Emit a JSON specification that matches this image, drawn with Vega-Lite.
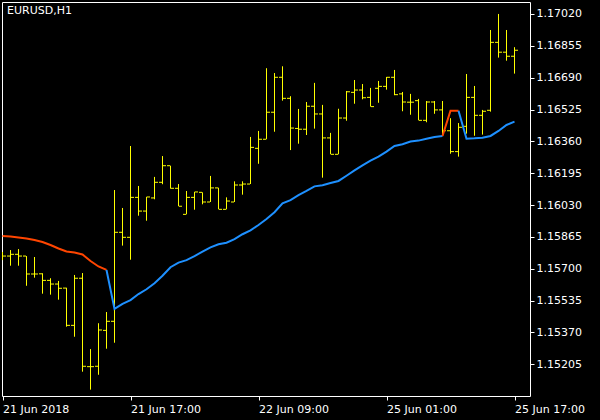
{
  "$schema": "https://vega.github.io/schema/vega-lite/v6.json",
  "width": 528,
  "height": 394,
  "autosize": {"type": "none"},
  "padding": {"left": 2, "top": 2, "right": 70, "bottom": 24},
  "background": "#000000",
  "title": {"text": "EURUSD,H1", "anchor": "start", "frame": "group", "orient": "top", "offset": -14, "dx": 5, "color": "#FFFFFF", "font": "DejaVu Sans", "fontSize": 11, "fontWeight": "normal"},
  "config": {
    "view": {"stroke": "#FFFFFF", "strokeWidth": 1, "fill": "#000000"},
    "axis": {"labelFont": "DejaVu Sans", "labelFontSize": 11, "labelColor": "#FFFFFF", "tickColor": "#FFFFFF", "tickSize": 4, "domain": false, "grid": false, "title": null, "labelOverlap": false}
  },
  "datasets": {
    "bars": [
      {"i":0,"o":1.15766,"h":1.15787,"l":1.15745,"c":1.15766},
      {"i":1,"o":1.15766,"h":1.15797,"l":1.15716,"c":1.15775},
      {"i":2,"o":1.15775,"h":1.15802,"l":1.15716,"c":1.15766},
      {"i":3,"o":1.15766,"h":1.15766,"l":1.15612,"c":1.15673},
      {"i":4,"o":1.15673,"h":1.15761,"l":1.15654,"c":1.15673},
      {"i":5,"o":1.15674,"h":1.15677,"l":1.15571,"c":1.15640},
      {"i":6,"o":1.15640,"h":1.15651,"l":1.15566,"c":1.15621},
      {"i":7,"o":1.15621,"h":1.15637,"l":1.15540,"c":1.15599},
      {"i":8,"o":1.15600,"h":1.15602,"l":1.15400,"c":1.15407},
      {"i":9,"o":1.15407,"h":1.15668,"l":1.15348,"c":1.15651},
      {"i":10,"o":1.15651,"h":1.15678,"l":1.15167,"c":1.15195},
      {"i":11,"o":1.15193,"h":1.15284,"l":1.15074,"c":1.15193},
      {"i":12,"o":1.15195,"h":1.15418,"l":1.15151,"c":1.15383},
      {"i":13,"o":1.15381,"h":1.15476,"l":1.15286,"c":1.15428},
      {"i":14,"o":1.15428,"h":1.16108,"l":1.15317,"c":1.15889},
      {"i":15,"o":1.15889,"h":1.16015,"l":1.15820,"c":1.15863},
      {"i":16,"o":1.15863,"h":1.16336,"l":1.15747,"c":1.16070},
      {"i":17,"o":1.16070,"h":1.16129,"l":1.15975,"c":1.15999},
      {"i":18,"o":1.15999,"h":1.16073,"l":1.15949,"c":1.16072},
      {"i":19,"o":1.16067,"h":1.16176,"l":1.16060,"c":1.16148},
      {"i":20,"o":1.16148,"h":1.16284,"l":1.16138,"c":1.16234},
      {"i":21,"o":1.16234,"h":1.16234,"l":1.16115,"c":1.16117},
      {"i":22,"o":1.16117,"h":1.16139,"l":1.16024,"c":1.16024},
      {"i":23,"o":1.15982,"h":1.16103,"l":1.15982,"c":1.16070},
      {"i":24,"o":1.16070,"h":1.16099,"l":1.16006,"c":1.16098},
      {"i":25,"o":1.16096,"h":1.16096,"l":1.16034,"c":1.16046},
      {"i":26,"o":1.16046,"h":1.16181,"l":1.16046,"c":1.16119},
      {"i":27,"o":1.16119,"h":1.16120,"l":1.16008,"c":1.16008},
      {"i":28,"o":1.16008,"h":1.16070,"l":1.16008,"c":1.16051},
      {"i":29,"o":1.16046,"h":1.16153,"l":1.16046,"c":1.16134},
      {"i":30,"o":1.16134,"h":1.16153,"l":1.16084,"c":1.16139},
      {"i":31,"o":1.16139,"h":1.16383,"l":1.16139,"c":1.16329},
      {"i":32,"o":1.16324,"h":1.16414,"l":1.16244,"c":1.16371},
      {"i":33,"o":1.16371,"h":1.16739,"l":1.16371,"c":1.16511},
      {"i":34,"o":1.16511,"h":1.16714,"l":1.16410,"c":1.16692},
      {"i":35,"o":1.16692,"h":1.16749,"l":1.16571,"c":1.16583},
      {"i":36,"o":1.16583,"h":1.16594,"l":1.16315,"c":1.16429},
      {"i":37,"o":1.16427,"h":1.16528,"l":1.16348,"c":1.16423},
      {"i":38,"o":1.16423,"h":1.16564,"l":1.16393,"c":1.16542},
      {"i":39,"o":1.16542,"h":1.16663,"l":1.16426,"c":1.16502},
      {"i":40,"o":1.16502,"h":1.16549,"l":1.16172,"c":1.16378},
      {"i":41,"o":1.16378,"h":1.16404,"l":1.16293,"c":1.16293},
      {"i":42,"o":1.16293,"h":1.16529,"l":1.16293,"c":1.16481},
      {"i":43,"o":1.16481,"h":1.16621,"l":1.16467,"c":1.16617},
      {"i":44,"o":1.16614,"h":1.16678,"l":1.16555,"c":1.16626},
      {"i":45,"o":1.16626,"h":1.16657,"l":1.16578,"c":1.16586},
      {"i":46,"o":1.16588,"h":1.16637,"l":1.16540,"c":1.16540},
      {"i":47,"o":1.16635,"h":1.16673,"l":1.16560,"c":1.16645},
      {"i":48,"o":1.16645,"h":1.16694,"l":1.16628,"c":1.16692},
      {"i":49,"o":1.16692,"h":1.16730,"l":1.16599,"c":1.16602},
      {"i":50,"o":1.16606,"h":1.16616,"l":1.16516,"c":1.16564},
      {"i":51,"o":1.16563,"h":1.16606,"l":1.16498,"c":1.16563},
      {"i":52,"o":1.16571,"h":1.16580,"l":1.16469,"c":1.16469},
      {"i":53,"o":1.16469,"h":1.16569,"l":1.16459,"c":1.16564},
      {"i":54,"o":1.16564,"h":1.16569,"l":1.16503,"c":1.16523},
      {"i":55,"o":1.16523,"h":1.16569,"l":1.16388,"c":1.16415},
      {"i":56,"o":1.16415,"h":1.16480,"l":1.16296,"c":1.16307},
      {"i":57,"o":1.16307,"h":1.16455,"l":1.16281,"c":1.16433},
      {"i":58,"o":1.16438,"h":1.16709,"l":1.16400,"c":1.16588},
      {"i":59,"o":1.16588,"h":1.16647,"l":1.16389,"c":1.16495},
      {"i":60,"o":1.16495,"h":1.16523,"l":1.16395,"c":1.16516},
      {"i":61,"o":1.16521,"h":1.16937,"l":1.16514,"c":1.16873},
      {"i":62,"o":1.16873,"h":1.17020,"l":1.16794,"c":1.16822},
      {"i":63,"o":1.16822,"h":1.16937,"l":1.16778,"c":1.16801},
      {"i":64,"o":1.16801,"h":1.16848,"l":1.16711,"c":1.16832}
    ],
    "ma": [
      {"i":0,"v":1.15870,"seg":"d1","trend":"down"},
      {"i":1,"v":1.15867,"seg":"d1","trend":"down"},
      {"i":2,"v":1.15862,"seg":"d1","trend":"down"},
      {"i":3,"v":1.15857,"seg":"d1","trend":"down"},
      {"i":4,"v":1.15849,"seg":"d1","trend":"down"},
      {"i":5,"v":1.15839,"seg":"d1","trend":"down"},
      {"i":6,"v":1.15823,"seg":"d1","trend":"down"},
      {"i":7,"v":1.15805,"seg":"d1","trend":"down"},
      {"i":8,"v":1.15790,"seg":"d1","trend":"down"},
      {"i":9,"v":1.15784,"seg":"d1","trend":"down"},
      {"i":10,"v":1.15774,"seg":"d1","trend":"down"},
      {"i":11,"v":1.15740,"seg":"d1","trend":"down"},
      {"i":12,"v":1.15712,"seg":"d1","trend":"down"},
      {"i":13,"v":1.15694,"seg":"d1","trend":"down"},
      {"i":13,"v":1.15694,"seg":"u1","trend":"up"},
      {"i":14,"v":1.15492,"seg":"u1","trend":"up"},
      {"i":15,"v":1.15518,"seg":"u1","trend":"up"},
      {"i":16,"v":1.15538,"seg":"u1","trend":"up"},
      {"i":17,"v":1.15569,"seg":"u1","trend":"up"},
      {"i":18,"v":1.15594,"seg":"u1","trend":"up"},
      {"i":19,"v":1.15625,"seg":"u1","trend":"up"},
      {"i":20,"v":1.15664,"seg":"u1","trend":"up"},
      {"i":21,"v":1.15708,"seg":"u1","trend":"up"},
      {"i":22,"v":1.15732,"seg":"u1","trend":"up"},
      {"i":23,"v":1.15745,"seg":"u1","trend":"up"},
      {"i":24,"v":1.15766,"seg":"u1","trend":"up"},
      {"i":25,"v":1.15789,"seg":"u1","trend":"up"},
      {"i":26,"v":1.15811,"seg":"u1","trend":"up"},
      {"i":27,"v":1.15827,"seg":"u1","trend":"up"},
      {"i":28,"v":1.15835,"seg":"u1","trend":"up"},
      {"i":29,"v":1.15854,"seg":"u1","trend":"up"},
      {"i":30,"v":1.15879,"seg":"u1","trend":"up"},
      {"i":31,"v":1.15899,"seg":"u1","trend":"up"},
      {"i":32,"v":1.15927,"seg":"u1","trend":"up"},
      {"i":33,"v":1.15958,"seg":"u1","trend":"up"},
      {"i":34,"v":1.15993,"seg":"u1","trend":"up"},
      {"i":35,"v":1.16039,"seg":"u1","trend":"up"},
      {"i":36,"v":1.16056,"seg":"u1","trend":"up"},
      {"i":37,"v":1.16081,"seg":"u1","trend":"up"},
      {"i":38,"v":1.16103,"seg":"u1","trend":"up"},
      {"i":39,"v":1.16127,"seg":"u1","trend":"up"},
      {"i":40,"v":1.16133,"seg":"u1","trend":"up"},
      {"i":41,"v":1.16144,"seg":"u1","trend":"up"},
      {"i":42,"v":1.16155,"seg":"u1","trend":"up"},
      {"i":43,"v":1.16182,"seg":"u1","trend":"up"},
      {"i":44,"v":1.16210,"seg":"u1","trend":"up"},
      {"i":45,"v":1.16236,"seg":"u1","trend":"up"},
      {"i":46,"v":1.16260,"seg":"u1","trend":"up"},
      {"i":47,"v":1.16281,"seg":"u1","trend":"up"},
      {"i":48,"v":1.16307,"seg":"u1","trend":"up"},
      {"i":49,"v":1.16336,"seg":"u1","trend":"up"},
      {"i":50,"v":1.16345,"seg":"u1","trend":"up"},
      {"i":51,"v":1.16359,"seg":"u1","trend":"up"},
      {"i":52,"v":1.16364,"seg":"u1","trend":"up"},
      {"i":53,"v":1.16374,"seg":"u1","trend":"up"},
      {"i":54,"v":1.16383,"seg":"u1","trend":"up"},
      {"i":55,"v":1.16388,"seg":"u1","trend":"up"},
      {"i":55,"v":1.16388,"seg":"d2","trend":"down"},
      {"i":56,"v":1.16519,"seg":"d2","trend":"down"},
      {"i":57,"v":1.16519,"seg":"d2","trend":"down"},
      {"i":57,"v":1.16519,"seg":"u2","trend":"up"},
      {"i":58,"v":1.16374,"seg":"u2","trend":"up"},
      {"i":59,"v":1.16376,"seg":"u2","trend":"up"},
      {"i":60,"v":1.16379,"seg":"u2","trend":"up"},
      {"i":61,"v":1.16388,"seg":"u2","trend":"up"},
      {"i":62,"v":1.16414,"seg":"u2","trend":"up"},
      {"i":63,"v":1.16445,"seg":"u2","trend":"up"},
      {"i":64,"v":1.16462,"seg":"u2","trend":"up"}
    ]
  },
  "encoding": {
    "x": {"field": "i", "type": "quantitative",
      "scale": {"domain": [-0.0625, 65.9375], "nice": false, "zero": false},
      "axis": {"orient": "bottom", "values": [0, 16, 32, 48, 64], "tickCount": 20, "labelAlign": "left", "labelPadding": 3, "labelFlush": false,
        "labelExpr": "datum.value == 0 ? '21 Jun 2018' : datum.value == 16 ? '21 Jun 17:00' : datum.value == 32 ? '22 Jun 09:00' : datum.value == 48 ? '25 Jun 01:00' : '25 Jun 17:00'"}}
  },
  "layer": [
    {
      "data": {"name": "bars"},
      "mark": {"type": "rule", "color": "#FFFF00", "strokeWidth": 1, "clip": true},
      "encoding": {
        "y": {"field": "l", "type": "quantitative",
          "scale": {"domain": [1.15041, 1.17082], "nice": false, "zero": false},
          "axis": {"orient": "right", "values": [1.15205, 1.1537, 1.15535, 1.157, 1.15865, 1.1603, 1.16195, 1.1636, 1.16525, 1.1669, 1.16855, 1.1702], "tickCount": 30, "format": ".5f", "labelPadding": 2, "labelOverlap": false, "labelFlush": false}},
        "y2": {"field": "h"}
      }
    },
    {
      "data": {"name": "bars"},
      "mark": {"type": "tick", "orient": "horizontal", "color": "#FFFF00", "size": 3, "thickness": 1, "xOffset": -2, "opacity": 1, "clip": true},
      "encoding": {"y": {"field": "o", "type": "quantitative"}}
    },
    {
      "data": {"name": "bars"},
      "mark": {"type": "tick", "orient": "horizontal", "color": "#FFFF00", "size": 3, "thickness": 1, "xOffset": 2, "opacity": 1, "clip": true},
      "encoding": {"y": {"field": "c", "type": "quantitative"}}
    },
    {
      "data": {"name": "ma"},
      "mark": {"type": "line", "strokeWidth": 2, "clip": true},
      "encoding": {
        "y": {"field": "v", "type": "quantitative"},
        "detail": {"field": "seg"},
        "color": {"field": "trend", "type": "nominal", "scale": {"domain": ["down", "up"], "range": ["#FF4500", "#1E90FF"]}, "legend": null}
      }
    }
  ]
}
